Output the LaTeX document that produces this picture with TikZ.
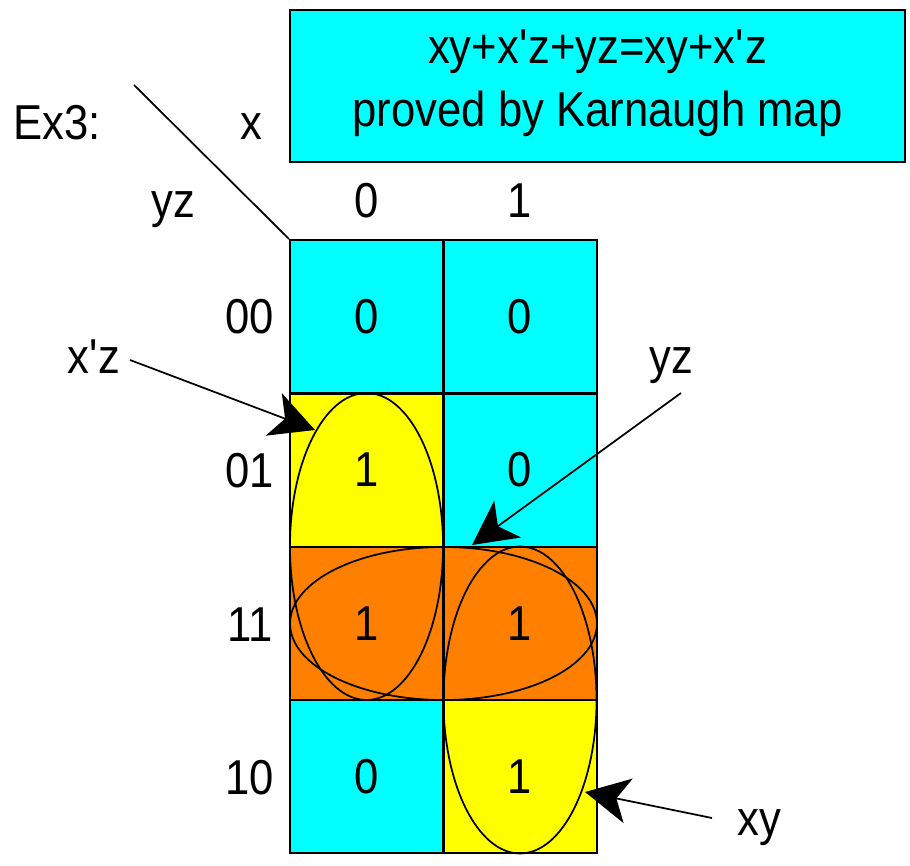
\documentclass[tikz,border=0pt]{standalone}
\usepackage{fontspec}
\setmainfont{Liberation Sans}[FakeStretch=0.89]
\usetikzlibrary{arrows.meta}
\definecolor{kcyan}{RGB}{0,255,255}
\definecolor{kyellow}{RGB}{255,255,0}
\definecolor{korange}{RGB}{255,128,0}
\newcommand{\sq}{\textquotesingle}
\begin{document}
\begin{tikzpicture}[x=0.75pt,y=-0.75pt,
  bigfont/.style={font=\fontsize{36.75pt}{44pt}\selectfont},
  lbl/.style={bigfont, anchor=base, inner sep=0pt},
  cell/.style={draw, line width=1.5pt, minimum width=114.75pt, minimum height=114.75pt, inner sep=0pt, bigfont},
  kloop/.style={draw, line width=1.3pt},
  arr/.style={line width=1.3pt, -{Stealth[length=33pt,width=34pt,inset=9pt]}},
]
\useasboundingbox (0,0) rectangle (910,866);

% title box
\node[draw, line width=1.5pt, fill=kcyan, minimum width=461.25pt, minimum height=114pt,
      inner sep=0pt] (title) at (597.5,86) {};
\node[lbl] (t1) at (597.5,64) {xy+x\sq z+yz=xy+x\sq z};
\node[lbl] (t2) at (597.5,127) {proved by Karnaugh map};

% labels
\node[lbl] (ex) at (57,140) {Ex3:};
\node[lbl] (xlab) at (251,140) {x};
\node[lbl] (yzlab) at (173,218) {yz};
\node[lbl] (col0) at (366.5,218) {0};
\node[lbl] (col1) at (520,218) {1};
\node[lbl] (r00) at (250,334) {00};
\node[lbl] (r01) at (250,487.5) {01};
\node[lbl] (r11) at (250,641) {11};
\node[lbl] (r10) at (250,794) {10};

% cells
\node[cell, fill=kcyan]   (a00) at (366.5,316.5) {0};
\node[cell, fill=kcyan]   (b00) at (520,316.5) {0};
\node[cell, fill=kyellow] (a01) at (366.5,470) {1};
\node[cell, fill=kcyan]   (b01) at (520,470) {0};
\node[cell, fill=korange] (a11) at (366.5,623.5) {1};
\node[cell, fill=korange] (b11) at (520,623.5) {1};
\node[cell, fill=kcyan]   (a10) at (366.5,776.5) {0};
\node[cell, fill=kyellow] (b10) at (520,776.5) {1};

% diagonal corner line
\coordinate (diagS) at (134,85);
\draw[line width=1.3pt] (diagS) -- (a00.north west);

% loops
\draw[kloop] (366.5,546.5) ellipse [x radius=57.4pt, y radius=115.1pt];
\draw[kloop] (520,700) ellipse [x radius=57.4pt, y radius=115.1pt];
\draw[kloop] (443.5,623.5) ellipse [x radius=115.1pt, y radius=57.4pt];

% group labels
\node[lbl] (xzl) at (94,373) {x\sq z};
\node[lbl] (yzl) at (671,373) {yz};
\node[lbl] (xyl) at (759,835) {xy};

% arrows
\coordinate (xzS) at (130,360);
\coordinate (xzT) at (315,430);
\coordinate (yzS) at (681,393);
\coordinate (yzT) at (472,545);
\coordinate (xyS) at (712,818);
\coordinate (xyT) at (585,792);
\draw[arr] (xzS) -- (xzT);
\draw[arr] (yzS) -- (yzT);
\draw[arr] (xyS) -- (xyT);
\end{tikzpicture}
\end{document}
